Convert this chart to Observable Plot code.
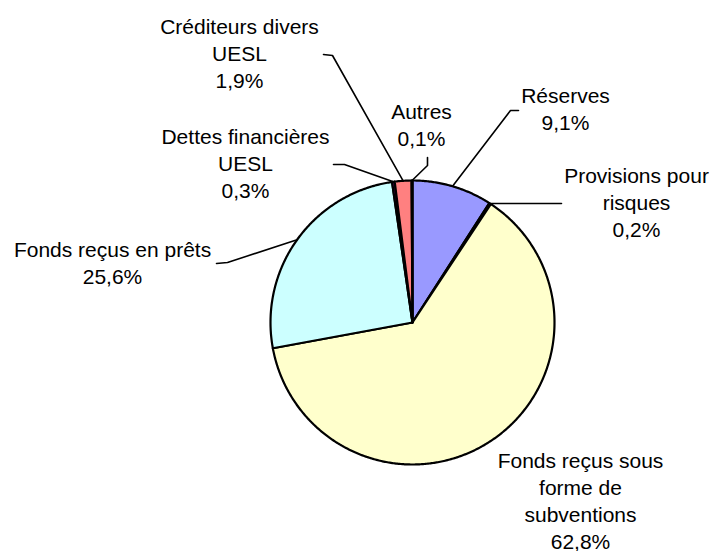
<!DOCTYPE html>
<html><head><meta charset="utf-8">
<script src="https://cdn.jsdelivr.net/npm/d3@7"></script>
<script src="https://cdn.jsdelivr.net/npm/@observablehq/plot@0.6"></script>
<style>body{margin:0;background:#fff} svg{display:block;background:#fff}</style>
</head><body><div id="chart"></div>
<script>
// ---- data ----
const categories = ["Réserves", "Provisions pour risques", "Fonds reçus sous forme de subventions", "Fonds reçus en prêts", "Dettes financières UESL", "Créditeurs divers UESL", "Autres"];
const labelTexts = ["Réserves", "Provisions pour\nrisques", "Fonds reçus sous\nforme de\nsubventions", "Fonds reçus en prêts", "Dettes financières\nUESL", "Créditeurs divers\nUESL", "Autres"];
const shares = [9.1, 0.2, 62.8, 25.6, 0.3, 1.9, 0.1];

// ---- styles / layout ----
const palette = ["#9999FF", "#993366", "#FFFFCC", "#CCFFFF", "#660066", "#FF8080", "#0066CC"];
const W = 712, H = 551, CX = 412, CY = 322, R = 142;
// label anchor (center x, first baseline) and leader-line elbows (null = no leader)
const labelPos = [[565, 98], [636, 178], [580, 463], [112, 252], [245, 139], [239, 29], [421, 114]];
const leaderElbows = [
  [[510, 110], [518, 110]],
  [[561, 203]],
  null,
  [[227, 262], [216, 263]],
  [[344, 164], [333, 164]],
  [[332, 55], [323, 54]],
  [[427, 165], [427, 157]]
];
const FS = 21, LH = 27 / 21;

const fmt = v => v.toFixed(1).replace(".", ",") + "%";
const arcs = d3.pie().sort(null).value(d => d)(shares);
const pt = (a, r) => [CX + r * Math.sin(a), CY - r * Math.cos(a)];

const slicePts = [];
arcs.forEach((p, i) => {
  slicePts.push({k: i, x: CX, y: CY, c: palette[i]});
  const n = Math.max(2, Math.ceil((p.endAngle - p.startAngle) / (Math.PI / 360)));
  for (let j = 0; j <= n; j++) {
    const a = p.startAngle + (p.endAngle - p.startAngle) * j / n;
    const [x, y] = pt(a, R);
    slicePts.push({k: i, x, y, c: palette[i]});
  }
  slicePts.push({k: i, x: CX, y: CY, c: palette[i]});
});

const leaderPts = [];
arcs.forEach((p, i) => {
  if (!leaderElbows[i]) return;
  const [x0, y0] = pt((p.startAngle + p.endAngle) / 2, R);
  leaderPts.push({k: i, x: x0, y: y0});
  leaderElbows[i].forEach(([x, y]) => leaderPts.push({k: i, x, y}));
});

const labels = categories.map((c, i) => ({
  x: labelPos[i][0],
  y: labelPos[i][1] - 0.71 * FS,
  text: labelTexts[i] + "\n" + fmt(shares[i])
}));

const chart = Plot.plot({
  width: W, height: H, margin: 0,
  x: {domain: [0, W], range: [0, W], axis: null},
  y: {domain: [0, H], range: [0, H], axis: null},
  color: {type: "identity"},
  style: {background: "#fff"},
  marks: [
    Plot.line(slicePts, {x: "x", y: "y", z: "k", fill: "c", stroke: "black", strokeWidth: 2.2, strokeLinejoin: "round", curve: "linear"}),
    Plot.line(leaderPts, {x: "x", y: "y", z: "k", stroke: "black", strokeWidth: 1.6, curve: "linear"}),
    Plot.text(labels, {x: "x", y: "y", text: "text", fontSize: FS, lineAnchor: "top", lineHeight: LH, fill: "black", fontFamily: "'Liberation Sans', Arial, sans-serif"})
  ]
});
document.getElementById("chart").append(chart);
</script>
</body></html>
